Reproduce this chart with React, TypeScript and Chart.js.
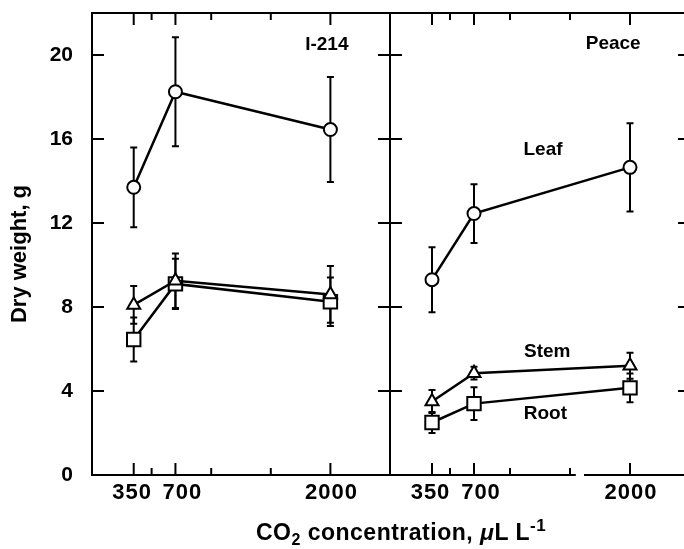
import React, { useEffect, useRef } from "react";
import { Chart, registerables } from "chart.js";

Chart.register(...registerables);

// ---------- data ----------
const co2Levels = [350, 700, 2000];
const xMajorTicks = [350, 700, 2000];
const xMinorTicks = [500, 1000, 1500];
const xTickLabels = ["350", "700", "2000"];
const yTickValues = [0, 4, 8, 12, 16, 20];
const yTickLabels = ["0", "4", "8", "12", "16", "20"];
const xMin = 0;
const xMax = 2500;
const yMin = 0;
const yMax = 22;

const organNames = ["Leaf", "Stem", "Root"];

// cultivar I-214
const i214Leaf = [13.7, 18.25, 16.45];
const i214LeafErr = [1.9, 2.6, 2.5];
const i214Stem = [8.1, 9.25, 8.6];
const i214StemErr = [0.9, 1.3, 1.35];
const i214Root = [6.45, 9.1, 8.25];
const i214RootErr = [1.05, 1.2, 1.15];

// cultivar Peace
const peaceLeaf = [9.3, 12.45, 14.65];
const peaceLeafErr = [1.55, 1.4, 2.1];
const peaceStem = [3.5, 4.85, 5.2];
const peaceStemErr = [0.55, 0.3, 0.62];
const peaceRoot = [2.5, 3.4, 4.15];
const peaceRootErr = [0.5, 0.78, 0.68];

// text labels placed in data units
const i214Notes = [{ text: "I-214", x: 1970, y: 20.5 }];
const peaceNotes = [
  { text: "Peace", x: 1860, y: 20.55 },
  { text: "Leaf", x: 1275, y: 15.5 },
  { text: "Stem", x: 1310, y: 5.85 },
  { text: "Root", x: 1295, y: 2.9 },
];
// break in the bottom axis of the Peace panel
const peaceAxisBreak = [1540, 1625];

// ---------- styles ----------
const FONT = '"Liberation Sans", Arial, Helvetica, sans-serif';
const pointStyles = ["circle", "triangle", "rect"];
const pointRadii = [6.5, 7.5, 9.5];
const labelShift: Record<string, number> = { "350": -1.5, "700": 7, "2000": 1 };

const panelPlugin = {
  id: "panel",
  beforeDatasetsDraw(chart: any) {
    const o = chart.options.plugins.panel;
    const { ctx } = chart;
    const xs = chart.scales.x;
    const ys = chart.scales.y;
    ctx.save();
    ctx.strokeStyle = "#000";
    ctx.lineWidth = 2;
    o.errors.forEach((err: number[], di: number) => {
      chart.data.datasets[di].data.forEach((p: any, j: number) => {
        const px = xs.getPixelForValue(p.x);
        const t = ys.getPixelForValue(p.y + err[j]);
        const b = ys.getPixelForValue(p.y - err[j]);
        ctx.beginPath();
        ctx.moveTo(px, t);
        ctx.lineTo(px, b);
        ctx.moveTo(px - 3.5, t);
        ctx.lineTo(px + 3.5, t);
        ctx.moveTo(px - 3.5, b);
        ctx.lineTo(px + 3.5, b);
        ctx.stroke();
      });
    });
    ctx.restore();
  },
  afterDraw(chart: any) {
    const o = chart.options.plugins.panel;
    const { ctx } = chart;
    const xs = chart.scales.x;
    const ys = chart.scales.y;
    const { left, right, top, bottom } = chart.chartArea;
    ctx.save();
    ctx.strokeStyle = "#000";
    ctx.fillStyle = "#000";
    ctx.lineWidth = 2;
    ctx.lineCap = "square";
    // frame
    ctx.beginPath();
    ctx.moveTo(left, top);
    ctx.lineTo(right, top);
    ctx.moveTo(left, top);
    ctx.lineTo(left, bottom);
    ctx.moveTo(right, top);
    ctx.lineTo(right, bottom);
    if (o.axisBreak) {
      const g1 = xs.getPixelForValue(o.axisBreak[0]);
      const g2 = xs.getPixelForValue(o.axisBreak[1]);
      ctx.moveTo(left, bottom);
      ctx.lineTo(g1, bottom);
      ctx.moveTo(g2, bottom);
      ctx.lineTo(right, bottom);
    } else {
      ctx.moveTo(left, bottom);
      ctx.lineTo(right, bottom);
    }
    ctx.stroke();
    // ticks
    ctx.lineCap = "butt";
    ctx.beginPath();
    const xTick = (v: number, len: number) => {
      const px = xs.getPixelForValue(v);
      ctx.moveTo(px, top);
      ctx.lineTo(px, top + len);
      ctx.moveTo(px, bottom);
      ctx.lineTo(px, bottom - len);
    };
    xMajorTicks.forEach((v) => xTick(v, 12));
    xMinorTicks.forEach((v) => xTick(v, 7));
    yTickValues.forEach((v) => {
      if (v === yMin) return;
      const py = ys.getPixelForValue(v);
      ctx.moveTo(left, py);
      ctx.lineTo(left + 12, py);
      ctx.moveTo(right, py);
      ctx.lineTo(right - 12, py);
    });
    ctx.stroke();
    // x tick labels
    ctx.font = `bold 22px ${FONT}`;
    (ctx as any).letterSpacing = "1px";
    ctx.textAlign = "center";
    ctx.textBaseline = "middle";
    xMajorTicks.forEach((v, i) => {
      const lbl = xTickLabels[i];
      ctx.fillText(lbl, xs.getPixelForValue(v) + (labelShift[lbl] || 0), bottom + 18);
    });
    (ctx as any).letterSpacing = "0px";
    // notes
    ctx.font = `bold 19px ${FONT}`;
    o.notes.forEach((n: any) => {
      ctx.fillText(n.text, xs.getPixelForValue(n.x), ys.getPixelForValue(n.y));
    });
    // y title
    if (o.yTitle) {
      ctx.font = `bold 22px ${FONT}`;
      ctx.translate(20, (top + bottom) / 2 + 10);
      ctx.rotate(-Math.PI / 2);
      ctx.fillText(o.yTitle, 0, 0);
    }
    ctx.restore();
  },
};

function makeDatasets(series: number[][]) {
  return series.map((vals, i) => ({
    label: organNames[i],
    data: co2Levels.map((x, j) => ({ x, y: vals[j] })),
    borderColor: "#000",
    borderWidth: 2.5,
    pointStyle: pointStyles[i],
    pointRadius: pointRadii[i],
    pointBackgroundColor: "#fff",
    pointBorderColor: "#000",
    pointBorderWidth: 2,
    tension: 0,
    clip: false,
  }));
}

function makeConfig(
  series: number[][],
  errors: number[][],
  notes: any[],
  showY: boolean,
  padding: any,
  axisBreak: number[] | null
): any {
  return {
    type: "line",
    data: { datasets: makeDatasets(series) },
    plugins: [panelPlugin],
    options: {
      responsive: false,
      animation: false,
      events: [],
      layout: { padding, autoPadding: false },
      plugins: {
        legend: { display: false },
        tooltip: { enabled: false },
        panel: {
          errors,
          notes,
          axisBreak,
          yTitle: showY ? "Dry weight, g" : null,
        },
      },
      scales: {
        x: { type: "linear", min: xMin, max: xMax, display: false },
        y: {
          type: "linear",
          min: yMin,
          max: yMax,
          display: showY,
          position: "left",
          afterBuildTicks: (s: any) => {
            s.ticks = yTickValues.map((v) => ({ value: v }));
          },
          afterFit: (s: any) => {
            if (showY) s.width = 92;
            s.paddingTop = 0;
            s.paddingBottom = 0;
          },
          grid: { display: false, drawTicks: false },
          border: { display: false },
          ticks: {
            autoSkip: false,
            padding: 19,
            color: "#000",
            font: { family: FONT, size: 21, weight: "bold" },
            callback: (v: number) => {
              const k = yTickValues.indexOf(v);
              return k >= 0 ? yTickLabels[k] : "";
            },
          },
        },
      },
    },
  };
}

export default function App() {
  const leftRef = useRef<HTMLCanvasElement>(null);
  const rightRef = useRef<HTMLCanvasElement>(null);

  useEffect(() => {
    const left = new Chart(
      leftRef.current as HTMLCanvasElement,
      makeConfig(
        [i214Leaf, i214Stem, i214Root],
        [i214LeafErr, i214StemErr, i214RootErr],
        i214Notes,
        true,
        { left: 0, right: 2, top: 13, bottom: 74 },
        null
      )
    );
    const right = new Chart(
      rightRef.current as HTMLCanvasElement,
      makeConfig(
        [peaceLeaf, peaceStem, peaceRoot],
        [peaceLeafErr, peaceStemErr, peaceRootErr],
        peaceNotes,
        false,
        { left: 2, right: 10, top: 13, bottom: 74 },
        peaceAxisBreak
      )
    );
    return () => {
      left.destroy();
      right.destroy();
    };
  }, []);

  return (
    <div
      style={{
        position: "absolute",
        left: 0,
        top: 0,
        width: 684,
        height: 549,
        overflow: "hidden",
        background: "#fff",
      }}
    >
      <canvas ref={leftRef} width={392} height={549} style={{ position: "absolute", left: 0, top: 0 }} />
      <canvas ref={rightRef} width={312} height={549} style={{ position: "absolute", left: 388, top: 0 }} />
      <div
        style={{
          position: "absolute",
          left: 0,
          top: 521,
          width: 802,
          textAlign: "center",
          whiteSpace: "nowrap",
          fontFamily: FONT,
          fontWeight: "bold",
          fontSize: "23px",
          lineHeight: "23px",
          letterSpacing: "0.5px",
          color: "#000",
        }}
      >
        CO<sub style={{ fontSize: "16px", verticalAlign: "-5px", lineHeight: 0 }}>2</sub> concentration,{" "}
        <i>μ</i>L L<sup style={{ fontSize: "17px", verticalAlign: "9px", lineHeight: 0 }}>-1</sup>
      </div>
    </div>
  );
}
